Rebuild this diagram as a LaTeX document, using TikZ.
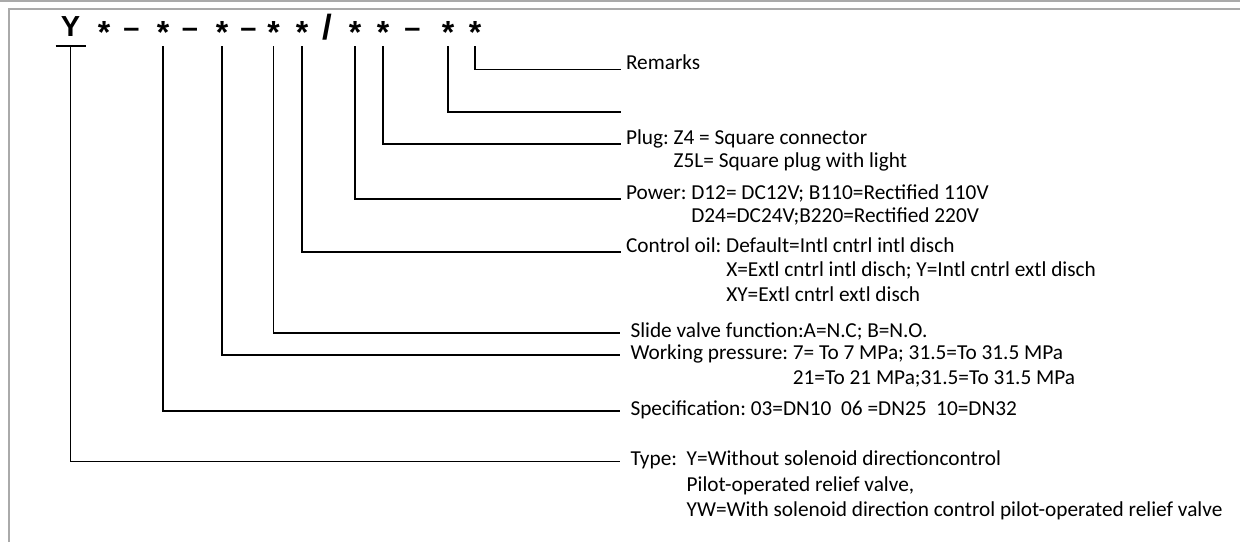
\documentclass[tikz,border=0pt]{standalone}
\usepackage{fontspec}
\setmainfont{Carlito}
\newfontfamily\hdrfont{Liberation Sans}
\definecolor{framegray}{RGB}{170,170,170}
\newcommand{\codestar}{{\fontsize{32}{32}\selectfont\raisebox{-0.22em}{*}}}
\newcommand{\codedash}{\raisebox{-1pt}{\textendash}}
\frenchspacing
\begin{document}
\begin{tikzpicture}[x=1pt,y=-1pt,
	hdr/.style={anchor=base,inner sep=0pt,font=\hdrfont\bfseries\fontsize{29}{30}\selectfont},
	lbl/.style={anchor=base west,inner xsep=5pt,inner ysep=0pt,outer sep=0pt,
		font=\fontsize{21.3}{24.5}\selectfont},
	lowlbl/.style={lbl,inner xsep=10.5pt},
	conn/.style={line width=1.7pt}]
	\useasboundingbox (0,0) rectangle (1240,542);
	% frame
	\draw[framegray,line width=2pt] (0,1)--(1240,1);
	\draw[framegray,line width=2pt] (8.5,542)--(8.5,8.5)--(1240,8.5);
	% model code
	\node[hdr] (y) at (70.5,36) {Y};
	\node[hdr] (s1) at (104,36) {\codestar};
	\node[hdr] (d1) at (131.5,36) {\codedash};
	\node[hdr] (s2) at (163,36) {\codestar};
	\node[hdr] (d2) at (190,36) {\codedash};
	\node[hdr] (s3) at (222,36) {\codestar};
	\node[hdr] (d3) at (248.5,36) {\codedash};
	\node[hdr] (s4) at (273.5,36) {\codestar};
	\node[hdr] (s5) at (302,36) {\codestar};
	\node[hdr,font=\hdrfont\bfseries\fontsize{35}{35}\selectfont] (sl) at (327.5,39) {/};
	\node[hdr] (s6) at (355,36) {\codestar};
	\node[hdr] (s7) at (383,36) {\codestar};
	\node[hdr] (d4) at (412.5,36) {\codedash};
	\node[hdr] (s8) at (448,36) {\codestar};
	\node[hdr] (s9) at (475,36) {\codestar};
	\coordinate (top) at (0,46);
	% explanations
	\node[lbl] (remarks) at (621,69.5) {Remarks};
	\coordinate (blank) at (621,111.7);
	\node[lbl] (plug) at (621,144) {Plug: Z4 = Square connector};
	\node[lbl] (plug2) at ([yshift=-23.5pt]plug.base west) {\hphantom{Plug: }Z5L= Square plug with light};
	\node[lbl] (power) at (621,199) {Power: D12= DC12V; B110=Rectified 110V};
	\node[lbl] (power2) at ([yshift=-23.5pt]power.base west) {\hphantom{Power: }D24=DC24V;B220=Rectified 220V};
	\node[lbl] (oil) at (621,252) {Control oil: Default=Intl cntrl intl disch};
	\node[lbl] (oil2) at ([yshift=-24.5pt]oil.base west) {\hphantom{Control oil: }X=Extl cntrl intl disch; Y=Intl cntrl extl disch};
	\node[lbl] (oil3) at ([yshift=-24.5pt]oil2.base west) {\hphantom{Control oil: }XY=Extl cntrl extl disch};
	\node[lowlbl] (slide) at (620,337) {Slide valve function:A=N.C; B=N.O.};
	\node[lowlbl] (press) at (620,359) {Working pressure: 7= To 7 MPa; 31.5=To 31.5 MPa};
	\node[lowlbl] (press2) at ([yshift=-25pt]press.base west) {\hphantom{Working pressure: }21=To 21 MPa;31.5=To 31.5 MPa};
	\node[lowlbl] (spec) at (620,415) {Specification: 03=DN10~~06 =DN25~~10=DN32};
	\node[lowlbl] (type) at (620,465.5) {Type:~~Y=Without solenoid directioncontrol};
	\node[lowlbl] (type2) at ([yshift=-25.5pt]type.base west) {\hphantom{Type:~~}Pilot-operated relief valve,};
	\node[lowlbl] (type3) at ([yshift=-25.5pt]type2.base west) {\hphantom{Type:~~}YW=With solenoid direction control pilot-operated relief valve};
	% leaders
	\draw[conn] ([xshift=-15pt]y |- top)--([xshift=15pt]y |- top);
	\draw[conn] (y |- top) |- ([yshift=4pt]type.base west);
	\draw[conn] (s2 |- top) |- ([yshift=4pt]spec.base west);
	\draw[conn] (s3 |- top) |- ([yshift=4pt]press.base west);
	\draw[conn] (s4 |- top) |- ([yshift=4pt]slide.base west);
	\draw[conn] (s5 |- top) |- (oil.base west);
	\draw[conn] (s6 |- top) |- (power.base west);
	\draw[conn] (s7 |- top) |- (plug.base west);
	\draw[conn] (s8 |- top) |- (blank);
	\draw[conn] (s9 |- top) |- (remarks.base west);
\end{tikzpicture}
\end{document}
